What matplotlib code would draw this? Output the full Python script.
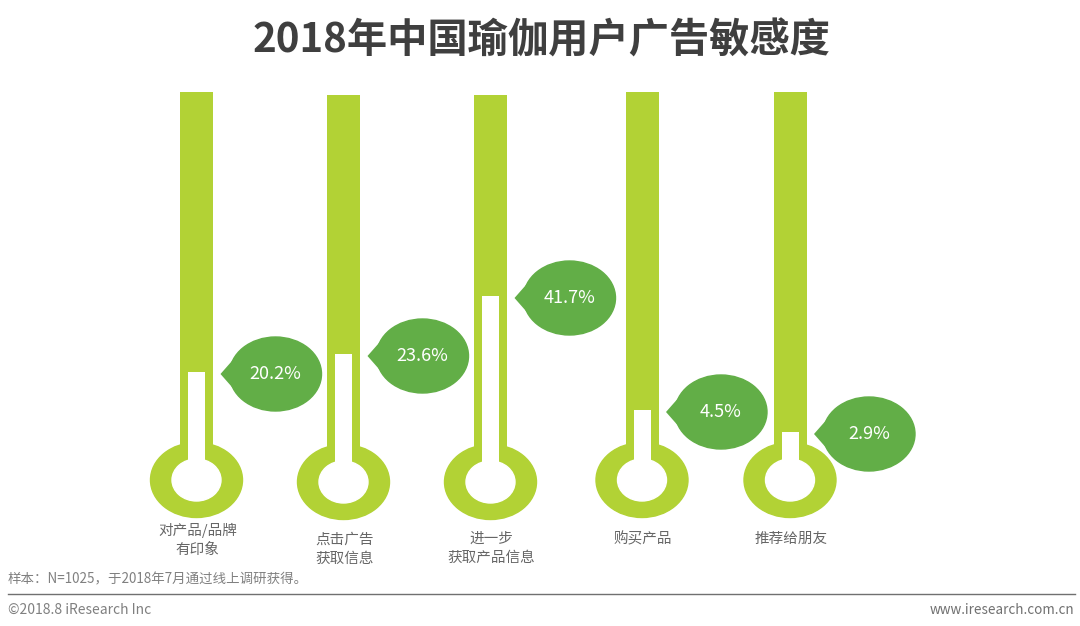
import matplotlib
matplotlib.use('Agg')
from matplotlib import pyplot as plt
from matplotlib.patches import Ellipse, Polygon

plt.rcParams['font.family'] = ['Noto Sans CJK SC', 'DejaVu Sans']

# data
categories = ['对产品/品牌\n有印象', '点击广告\n获取信息', '进一步\n获取产品信息', '购买产品', '推荐给朋友']
values = [20.2, 23.6, 41.7, 4.5, 2.9]
# white level in each tube, height above the bulb centre
levels = [108, 128, 186, 70, 48]

# layout in picture pixels
tube_x = [196.5, 343.5, 490.5, 642, 790]
tube_top = [92, 95, 95, 92, 92]
bulb_y = [480, 482, 482, 480, 480]
label_y = [523, 533, 532, 532, 532]
bubble_dx = 79
tube_w = 33
fill_w = 17

GREEN = '#b2d235'
DARK = '#62ae47'
GREY = '#666666'

fig = plt.figure(figsize=(10.8, 6.26), dpi=100)
ax = fig.add_axes([0, 0, 1, 1])
ax.set_xlim(0, 1080)
ax.set_ylim(626, 0)
ax.axis('off')

for i in range(len(values)):
    x = tube_x[i]
    y = bulb_y[i]
    top = y - levels[i]
    # tube and bulb
    ax.bar(x, y - tube_top[i], width=tube_w, bottom=tube_top[i], color=GREEN, zorder=1)
    ax.add_patch(Ellipse((x, y), 92, 75, color=GREEN, zorder=1))
    # white fill
    ax.bar(x, levels[i], width=fill_w, bottom=top, color='white', zorder=2)
    ax.add_patch(Ellipse((x, y), 49, 42, color='white', zorder=2))
    # bubble
    cx = x + bubble_dx
    cy = top + 2
    ax.add_patch(Ellipse((cx, cy), 92, 74, color=DARK, zorder=3))
    ax.add_patch(Polygon([(cx - 55, cy), (cx - 33, cy - 25), (cx - 33, cy + 25)], closed=True, color=DARK, lw=0, zorder=3))
    ax.text(cx, cy, '%.1f%%' % values[i], color='white', fontsize=13, ha='center', va='center', zorder=4)
    ax.text(x + 1, label_y[i], categories[i], color=GREY, fontsize=10.5, ha='center', va='top', linespacing=1.45)

ax.text(542, 41, '2018年中国瑜伽用户广告敏感度', color='#3f3f3f', fontsize=29, fontweight='bold', ha='center', va='center')

# footer
ax.plot([8, 1075], [594, 594], color='#707070', lw=1)
ax.text(8, 579, '样本：N=1025，于2018年7月通过线上调研获得。', color='#808080', fontsize=9.7, ha='left', va='center')
ax.text(8, 610, '©2018.8 iResearch Inc', color='#808080', fontsize=10, ha='left', va='center')
ax.text(1074, 610, 'www.iresearch.com.cn', color='#707070', fontsize=9.7, ha='right', va='center')

fig.savefig('out.png', dpi=100)
